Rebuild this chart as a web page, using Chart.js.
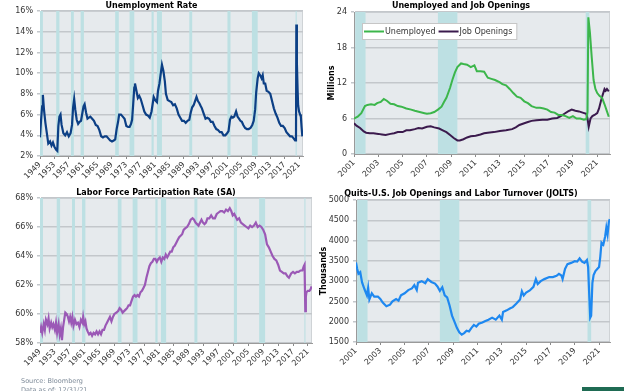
<!DOCTYPE html>
<html>
<head>
<meta charset="utf-8">
<script src="https://cdn.jsdelivr.net/npm/chart.js@4/dist/chart.umd.min.js"></script>
<style>
body { margin:0; background:#fff; width:624px; height:391px; overflow:hidden; position:relative; font-family:"DejaVu Sans", sans-serif; }
canvas { position:absolute; }
#c1 { left:0; top:0; }
#c2 { left:312px; top:0; }
#c3 { left:0; top:187px; }
#c4 { left:312px; top:187px; }
#src { position:absolute; left:21px; top:377px; font-size:6.5px; line-height:8.5px; color:#7d8a98; }
#bar { position:absolute; left:582px; top:387px; width:42px; height:4px; background:#1f6b53; }
</style>
</head>
<body>
<canvas id="c1" width="312" height="190"></canvas>
<canvas id="c2" width="312" height="190"></canvas>
<canvas id="c3" width="318" height="190"></canvas>
<canvas id="c4" width="312" height="190"></canvas>
<div id="src">Source: Bloomberg<br>Data as of: 12/31/21</div>
<div id="bar"></div>
<script>
// recession periods (start, end) as decimal years
const recessions = [
  [1948.9, 1949.8], [1953.5, 1954.4], [1957.6, 1958.4], [1960.3, 1961.2],
  [1969.9, 1970.9], [1973.9, 1975.2], [1980.0, 1980.6], [1981.5, 1982.9],
  [1990.5, 1991.3], [2001.1, 2001.95], [2007.9, 2009.5], [2020.05, 2020.35]
];

const longTicks = [1949,1953,1957,1961,1965,1969,1973,1977,1981,1985,1989,1993,1997,2001,2005,2009,2013,2017,2021];
const shortTicks = [2001,2003,2005,2007,2009,2011,2013,2015,2017,2019,2021];

// Unemployment rate (%)
const urYears = [1949.0,1949.3,1949.6,1949.8,1950.1,1950.5,1950.9,1951.3,1951.8,1952.2,1952.6,1953.0,1953.5,1953.8,1954.1,1954.4,1954.7,1955.0,1955.5,1956.0,1956.5,1957.0,1957.5,1957.9,1958.2,1958.5,1958.8,1959.2,1959.6,1960.0,1960.4,1960.8,1961.1,1961.4,1961.8,1962.2,1962.6,1963.0,1963.5,1964.0,1964.5,1965.0,1965.5,1966.0,1966.5,1967.0,1967.5,1968.0,1968.5,1969.0,1969.5,1969.9,1970.3,1970.7,1971.0,1971.5,1972.0,1972.5,1973.0,1973.5,1973.9,1974.3,1974.6,1974.9,1975.2,1975.4,1975.8,1976.2,1976.6,1977.0,1977.5,1978.0,1978.5,1979.0,1979.5,1980.0,1980.3,1980.6,1981.0,1981.5,1981.8,1982.2,1982.5,1982.9,1983.3,1983.7,1984.0,1984.5,1985.0,1985.5,1986.0,1986.5,1987.0,1987.5,1988.0,1988.5,1989.0,1989.5,1990.0,1990.5,1990.9,1991.3,1991.7,1992.1,1992.5,1992.9,1993.3,1993.7,1994.0,1994.5,1995.0,1995.5,1996.0,1996.5,1997.0,1997.5,1998.0,1998.5,1999.0,1999.5,2000.0,2000.5,2001.0,2001.4,2001.8,2002.2,2002.6,2003.0,2003.5,2003.9,2004.3,2004.7,2005.1,2005.5,2006.0,2006.5,2007.0,2007.5,2008.0,2008.4,2008.8,2009.1,2009.5,2009.8,2010.2,2010.6,2010.9,2011.2,2011.6,2012.0,2012.5,2013.0,2013.5,2014.0,2014.5,2015.0,2015.5,2016.0,2016.5,2017.0,2017.5,2018.0,2018.5,2019.0,2019.5,2019.9,2020.15,2020.25,2020.4,2020.6,2020.75,2021.0,2021.3,2021.5,2021.7,2021.92];
const urValues = [3.8,5.5,6.8,7.9,6.5,5.2,4.2,3.2,3.4,3.0,3.3,2.9,2.6,2.5,4.9,5.8,6.0,5.0,4.2,4.0,4.3,3.9,4.2,5.0,6.7,7.5,6.5,5.5,5.1,5.3,5.4,6.2,6.8,7.0,6.2,5.6,5.7,5.8,5.6,5.4,5.0,4.9,4.5,3.9,3.8,3.9,3.9,3.7,3.5,3.4,3.5,3.6,4.6,5.3,6.0,6.0,5.8,5.6,4.9,4.8,4.8,5.1,5.5,7.0,8.6,9.0,8.3,7.6,7.8,7.5,6.9,6.3,6.0,5.9,5.7,6.3,7.0,7.7,7.4,7.2,8.3,9.0,9.8,10.8,10.2,9.2,8.0,7.4,7.3,7.2,6.9,7.0,6.6,6.0,5.7,5.4,5.4,5.2,5.4,5.5,6.2,6.7,6.9,7.3,7.7,7.3,7.1,6.8,6.6,6.1,5.6,5.7,5.6,5.3,5.3,4.9,4.6,4.5,4.3,4.3,4.0,4.0,4.2,4.4,5.5,5.8,5.7,5.8,6.3,5.8,5.6,5.4,5.3,5.0,4.7,4.6,4.6,4.7,5.0,5.4,6.5,8.2,9.5,10.0,9.8,9.5,9.8,9.0,9.0,8.3,8.2,8.0,7.3,6.6,6.1,5.7,5.2,4.9,4.9,4.7,4.3,4.1,3.9,3.9,3.7,3.5,3.6,14.7,11.0,8.4,6.9,6.3,6.0,5.8,4.8,3.9];

// Labor force participation rate (%)
const lfprYears = [1949.0,1949.3,1949.6,1950.0,1950.3,1950.6,1951.0,1951.3,1951.6,1952.0,1952.3,1952.6,1953.0,1953.3,1953.6,1954.0,1954.3,1954.6,1954.9,1955.2,1955.5,1955.8,1956.2,1956.5,1956.8,1957.1,1957.4,1957.7,1958.0,1958.4,1958.8,1959.2,1959.6,1960.0,1960.4,1960.6,1960.9,1961.2,1961.5,1961.8,1962.2,1962.6,1963.0,1963.4,1963.8,1964.2,1964.6,1965.0,1965.4,1965.8,1966.2,1966.6,1967.0,1967.4,1967.8,1968.2,1968.6,1969.0,1969.5,1970.0,1970.4,1970.8,1971.2,1971.6,1972.0,1972.4,1972.8,1973.2,1973.6,1974.0,1974.4,1974.8,1975.2,1975.6,1976.0,1976.4,1976.8,1977.2,1977.6,1978.0,1978.4,1978.8,1979.2,1979.6,1980.0,1980.4,1980.8,1981.2,1981.6,1982.0,1982.4,1982.8,1983.2,1983.6,1984.0,1984.4,1984.8,1985.2,1985.6,1986.0,1986.4,1986.8,1987.2,1987.6,1988.0,1988.5,1989.0,1989.5,1990.0,1990.4,1990.8,1991.2,1991.6,1992.0,1992.4,1992.8,1993.2,1993.6,1994.0,1994.5,1995.0,1995.5,1996.0,1996.5,1997.0,1997.5,1998.0,1998.5,1999.0,1999.5,2000.0,2000.4,2000.8,2001.2,2001.6,2002.0,2002.5,2003.0,2003.5,2004.0,2004.5,2005.0,2005.5,2006.0,2006.5,2007.0,2007.5,2008.0,2008.5,2009.0,2009.5,2010.0,2010.5,2011.0,2011.5,2012.0,2012.5,2013.0,2013.5,2014.0,2014.5,2015.0,2015.5,2015.9,2016.5,2017.0,2017.5,2018.0,2018.5,2019.0,2019.5,2019.9,2020.1,2020.3,2020.45,2020.6,2021.0,2021.4,2021.7,2022.0];
const lfprValues = [58.7,59.1,58.7,59.3,58.9,59.6,59.3,59.7,59.0,59.4,59.1,59.3,58.9,59.4,58.7,59.3,58.6,59.0,58.2,59.1,59.6,60.1,60.0,59.8,59.5,59.8,59.4,59.8,59.2,59.6,59.3,59.4,59.1,59.6,59.4,59.8,59.3,59.5,59.0,58.8,58.6,58.7,58.5,58.7,58.6,58.8,58.6,58.8,58.6,58.9,58.9,59.2,59.4,59.6,59.8,59.5,59.8,60.0,60.1,60.2,60.4,60.3,60.1,60.2,60.3,60.4,60.6,60.6,60.9,61.2,61.3,61.2,61.3,61.2,61.5,61.6,61.8,62.0,62.5,62.9,63.3,63.5,63.6,63.8,63.8,63.6,63.8,63.9,63.6,63.9,63.8,64.1,63.9,64.1,64.3,64.3,64.6,64.7,64.9,65.1,65.3,65.4,65.5,65.8,65.9,66.0,66.2,66.5,66.6,66.5,66.3,66.2,66.1,66.3,66.5,66.3,66.2,66.3,66.6,66.6,66.8,66.6,66.6,66.9,67.0,67.1,67.1,67.0,67.2,67.1,67.3,67.1,66.8,66.9,66.7,66.5,66.6,66.3,66.2,66.1,66.0,65.9,66.1,66.0,66.1,66.3,66.0,66.1,66.0,65.8,65.5,64.8,64.6,64.3,64.0,63.8,63.7,63.4,63.0,62.9,62.8,62.8,62.6,62.5,62.8,62.9,62.8,62.9,62.9,63.0,63.0,63.3,63.4,60.2,61.2,61.5,61.6,61.6,61.7,61.9];

// Unemployed persons and job openings (millions)
const unempYears = [2001.0,2001.3,2001.6,2001.9,2002.1,2002.4,2002.7,2002.9,2003.2,2003.45,2003.7,2004.0,2004.3,2004.6,2004.9,2005.3,2005.7,2006.0,2006.4,2006.8,2007.0,2007.3,2007.6,2007.9,2008.2,2008.4,2008.6,2008.9,2009.1,2009.3,2009.5,2009.8,2010.0,2010.3,2010.6,2010.9,2011.1,2011.4,2011.7,2012.0,2012.3,2012.6,2013.0,2013.2,2013.5,2013.8,2014.1,2014.4,2014.7,2015.0,2015.3,2015.6,2016.0,2016.3,2016.6,2016.9,2017.2,2017.5,2017.8,2018.1,2018.4,2018.7,2019.0,2019.3,2019.6,2019.9,2020.1,2020.2,2020.27,2020.4,2020.55,2020.7,2020.85,2021.0,2021.2,2021.4,2021.6,2021.8,2021.95];
const unempValues = [6.0,6.3,6.9,8.1,8.3,8.4,8.3,8.6,8.8,9.3,9.0,8.5,8.4,8.1,8.0,7.7,7.5,7.3,7.1,6.9,6.8,6.9,7.1,7.5,8.0,8.8,9.5,11.2,12.6,13.8,14.7,15.3,15.2,15.1,14.7,15.0,14.0,14.0,13.9,12.9,12.7,12.5,12.1,11.8,11.6,11.0,10.3,9.7,9.5,8.9,8.6,8.1,7.8,7.8,7.7,7.5,7.1,7.0,6.6,6.6,6.4,6.1,6.4,6.0,6.0,5.8,5.9,7.1,23.1,20.5,16.3,12.5,11.0,10.3,9.8,9.5,8.4,7.2,6.3];
const openYears = [2001.0,2001.2,2001.5,2001.8,2002.0,2002.3,2002.6,2003.0,2003.3,2003.6,2004.0,2004.3,2004.6,2005.0,2005.3,2005.6,2006.0,2006.3,2006.6,2007.0,2007.3,2007.6,2008.0,2008.3,2008.6,2008.9,2009.2,2009.5,2009.7,2010.0,2010.3,2010.6,2011.0,2011.4,2011.7,2012.0,2012.5,2013.0,2013.5,2014.0,2014.3,2014.6,2015.0,2015.3,2015.6,2016.0,2016.5,2016.9,2017.3,2017.7,2018.0,2018.3,2018.6,2018.9,2019.2,2019.5,2019.8,2020.1,2020.2,2020.3,2020.45,2020.6,2020.85,2021.0,2021.15,2021.3,2021.45,2021.6,2021.7,2021.8,2021.95];
const openValues = [5.2,4.8,4.4,3.8,3.6,3.5,3.5,3.4,3.3,3.2,3.4,3.5,3.7,3.7,4.0,4.0,4.2,4.4,4.3,4.6,4.7,4.5,4.3,4.0,3.7,3.2,2.7,2.3,2.3,2.5,2.8,3.0,3.1,3.3,3.5,3.6,3.7,3.9,4.0,4.2,4.5,4.9,5.2,5.4,5.6,5.7,5.8,5.8,6.0,6.1,6.4,6.8,7.2,7.5,7.3,7.2,7.0,6.8,6.0,4.6,6.0,6.4,6.7,6.9,7.7,8.9,10.0,11.0,10.7,11.0,10.6];

// JOLTS quits (thousands)
const quitYears = [2001.0,2001.1,2001.2,2001.35,2001.5,2001.7,2001.9,2002.0,2002.1,2002.3,2002.5,2002.8,2003.0,2003.2,2003.5,2003.8,2004.0,2004.3,2004.5,2004.7,2005.0,2005.3,2005.6,2005.8,2006.0,2006.1,2006.4,2006.7,2006.9,2007.2,2007.5,2007.7,2007.9,2008.1,2008.3,2008.5,2008.7,2008.9,2009.1,2009.3,2009.5,2009.7,2009.9,2010.1,2010.3,2010.5,2010.7,2010.9,2011.1,2011.4,2011.6,2011.9,2012.2,2012.5,2012.8,2013.0,2013.1,2013.4,2013.7,2013.9,2014.2,2014.5,2014.65,2014.8,2015.0,2015.3,2015.6,2015.8,2015.95,2016.2,2016.5,2016.9,2017.2,2017.5,2017.7,2017.9,2018.0,2018.2,2018.4,2018.7,2019.0,2019.2,2019.4,2019.6,2019.8,2020.0,2020.1,2020.2,2020.27,2020.35,2020.45,2020.55,2020.7,2020.85,2021.0,2021.1,2021.2,2021.35,2021.5,2021.6,2021.7,2021.8,2021.88];
const quitValues = [3460,3300,3180,3220,2970,2800,2650,2840,2550,2700,2620,2620,2560,2470,2380,2420,2500,2560,2520,2650,2700,2780,2820,2900,2780,2960,3000,2950,3050,2980,2940,2870,2760,2850,2650,2600,2400,2150,2000,1850,1740,1680,1720,1780,1760,1850,1920,1880,1950,1980,2010,2050,2100,2050,2150,2050,2240,2280,2330,2360,2450,2550,2750,2650,2720,2770,2860,3050,2930,3000,3050,3100,3100,3130,3180,3140,3050,3300,3420,3450,3490,3480,3560,3480,3450,3520,3350,2600,2100,2150,2950,3150,3250,3300,3350,3600,3950,3900,4100,4320,4150,4450,4530];

const FONT = '"DejaVu Sans", sans-serif';

const plotBg = {
  id: 'plotBg',
  beforeDraw(chart) {
    const { ctx, chartArea: a } = chart;
    ctx.save();
    ctx.fillStyle = '#e6eaed';
    ctx.fillRect(a.left, a.top, a.right - a.left, a.bottom - a.top);
    ctx.strokeStyle = '#cfd3d6';
    ctx.lineWidth = 1;
    ctx.strokeRect(a.left + 0.5, a.top + 0.5, a.right - a.left - 1, a.bottom - a.top - 1);
    ctx.restore();
  }
};

const recessionBands = {
  id: 'recessionBands',
  beforeDatasetsDraw(chart) {
    const { ctx, chartArea: a, scales: { x } } = chart;
    ctx.save();
    ctx.fillStyle = '#bde0e3';
    recessions.forEach(([s, e]) => {
      const l = Math.max(a.left, x.getPixelForValue(s));
      const r = Math.min(a.right, x.getPixelForValue(e));
      if (r > l) ctx.fillRect(l, a.top, r - l, a.bottom - a.top);
    });
    ctx.restore();
  }
};

const legendBox = {
  id: 'legendBox',
  afterDatasetsDraw(chart) {
    const { ctx, chartArea: a } = chart;
    const x0 = a.left + 8, y0 = a.top + 11, h = 16;
    ctx.save();
    ctx.font = '8px ' + FONT;
    const items = chart.data.datasets.map(d => ({ text: d.label, color: d.borderColor, w: ctx.measureText(d.label).width }));
    const w = items.reduce((s, it) => s + 21 + it.w + 3, 0) + 3;
    ctx.fillStyle = '#fff';
    ctx.fillRect(x0, y0, w, h);
    ctx.strokeStyle = '#c6c6c6';
    ctx.lineWidth = 1;
    ctx.strokeRect(x0 + 0.5, y0 + 0.5, w, h);
    let x = x0 + 2;
    ctx.textBaseline = 'middle';
    items.forEach(it => {
      ctx.strokeStyle = it.color;
      ctx.lineWidth = 2;
      ctx.beginPath();
      ctx.moveTo(x, y0 + h / 2 + 0.5);
      ctx.lineTo(x + 20, y0 + h / 2 + 0.5);
      ctx.stroke();
      x += 21;
      ctx.fillStyle = '#333';
      ctx.fillText(it.text, x, y0 + h / 2 + 1);
      x += it.w + 3;
    });
    ctx.restore();
  }
};

function lineChart(id, o) {
  return new Chart(document.getElementById(id), {
    type: 'line',
    data: {
      datasets: o.series.map(s => ({
        label: s.label,
        data: s.x.map((x, i) => ({ x: x, y: s.y[i] })),
        borderColor: s.color,
        borderWidth: s.width || 2,
        pointRadius: 0,
        tension: 0
      }))
    },
    options: {
      responsive: false,
      animation: false,
      devicePixelRatio: 1,
      layout: { padding: { left: 0, right: o.padRight, top: 0, bottom: 0 } },
      plugins: {
        legend: { display: false },
        tooltip: { enabled: false },
        title: {
          display: true, text: o.title, color: '#000',
          font: { family: FONT, size: 8, weight: 'bold' },
          padding: { top: o.titleTop, bottom: o.titleBottom }
        }
      },
      scales: {
        x: {
          type: 'linear', min: o.xMin, max: o.xMax,
          afterBuildTicks: axis => { axis.ticks = o.xTicks.map(v => ({ value: v })); },
          afterFit: axis => { axis.height = o.xHeight; },
          ticks: {
            autoSkip: false, minRotation: 45, maxRotation: 45, padding: 1,
            color: '#333', font: { family: FONT, size: 8 },
            callback: v => String(v)
          },
          grid: { drawOnChartArea: false, tickLength: 3, color: '#8a8a8a' },
          border: { color: '#9a9a9a' }
        },
        y: {
          min: o.yMin, max: o.yMax,
          afterFit: axis => { axis.width = o.yWidth; },
          ticks: {
            stepSize: o.yStep, padding: 4, color: '#333',
            font: { family: FONT, size: 8 },
            callback: o.yFormat
          },
          grid: { color: '#c3c7cb', lineWidth: 1.5, tickLength: 3 },
          border: { color: '#9a9a9a' },
          title: {
            display: !!o.yTitle, text: o.yTitle, color: '#000',
            font: { family: FONT, size: 8, weight: 'bold' },
            padding: { top: o.yTitlePad || 0, bottom: 0 }
          }
        }
      }
    },
    plugins: [plotBg, recessionBands].concat(o.extra || [])
  });
}

lineChart('c1', {
  title: 'Unemployment Rate', titleTop: 1, titleBottom: 0.4,
  xMin: 1949, xMax: 2022.1, xTicks: longTicks, xHeight: 34,
  yMin: 2, yMax: 16, yStep: 2, yWidth: 40, yFormat: v => v + '%',
  padRight: 9,
  series: [{ label: 'Unemployment Rate', x: urYears, y: urValues, color: '#0c3f85', width: 2.2 }]
});

lineChart('c2', {
  title: 'Unemployed and Job Openings', titleTop: 1, titleBottom: 1.4,
  xMin: 2001, xMax: 2022.05, xTicks: shortTicks, xHeight: 36,
  yMin: 0, yMax: 24, yStep: 6, yWidth: 42, yFormat: v => v,
  yTitle: 'Millions', yTitlePad: 15,
  padRight: 14,
  series: [
    { label: 'Unemployed', x: unempYears, y: unempValues, color: '#3cb64b' },
    { label: 'Job Openings', x: openYears, y: openValues, color: '#3b1a4d' }
  ],
  extra: [legendBox]
});

lineChart('c3', {
  title: 'Labor Force Participation Rate (SA)', titleTop: 1, titleBottom: 0.4,
  xMin: 1949, xMax: 2022.1, xTicks: longTicks, xHeight: 34,
  yMin: 58, yMax: 68, yStep: 2, yWidth: 40, yFormat: v => v + '%',
  padRight: 6,
  series: [{ label: 'Labor Force Participation Rate', x: lfprYears, y: lfprValues, color: '#9b59b6', width: 2.2 }]
});

lineChart('c4', {
  title: 'Quits-U.S. Job Openings and Labor Turnover (JOLTS)', titleTop: 2, titleBottom: 1.4,
  xMin: 2001, xMax: 2021.9, xTicks: shortTicks, xHeight: 35,
  yMin: 1500, yMax: 5000, yStep: 500, yWidth: 44, yFormat: v => v,
  yTitle: 'Thousands', yTitlePad: 7,
  padRight: 14,
  series: [{ label: 'Quits', x: quitYears, y: quitValues, color: '#1e88f0', width: 2.2 }]
});
</script>
</body>
</html>
